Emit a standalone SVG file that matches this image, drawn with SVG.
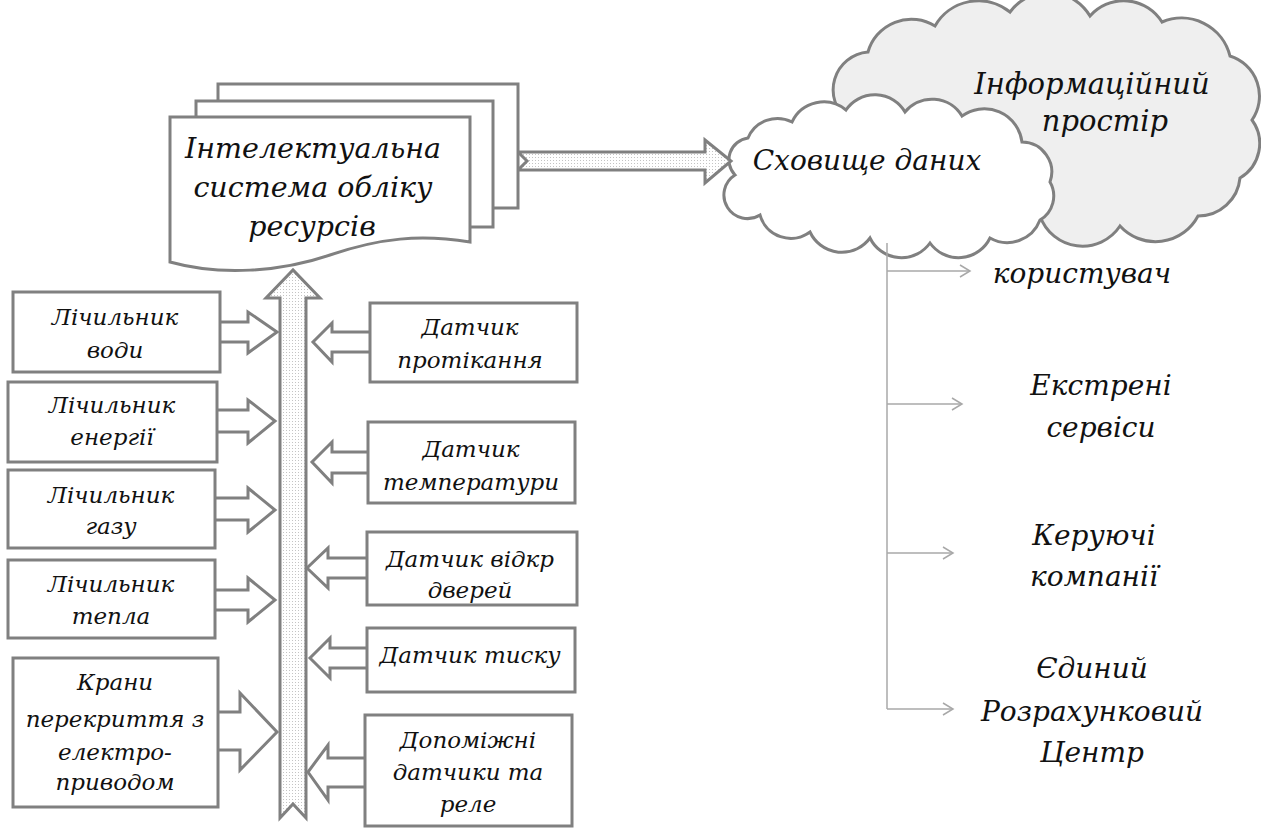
<svg xmlns="http://www.w3.org/2000/svg" width="1261" height="829" viewBox="0 0 1261 829">
<defs>
<pattern id="dots" width="3" height="3" patternUnits="userSpaceOnUse">
<rect width="3" height="3" fill="#ffffff"/>
<rect x="1" y="1" width="1" height="1" fill="#c4c4c4"/>
</pattern>
<marker id="open" markerWidth="14" markerHeight="14" refX="12" refY="7" orient="auto" markerUnits="userSpaceOnUse">
<path d="M2,1 L12,7 L2,13" fill="none" stroke="#a8a8a8" stroke-width="1.5"/>
</marker>
</defs>
<style>
.sh{fill:#fff;stroke:#808080;stroke-width:3;stroke-linejoin:miter}
.big{fill:url(#dots);stroke:#808080;stroke-width:3}
.t{font-family:"DejaVu Serif","Liberation Serif",serif;font-style:italic;fill:#111;text-anchor:middle}
.s{font-size:23px}
.m{font-size:28.5px}
.l{font-size:28px}
.c{font-size:29px}
.ln{fill:none;stroke:#a8a8a8;stroke-width:1.5}
</style>
<rect width="1261" height="829" fill="#fff"/>

<g id="cloud-info">
<path class="sh" style="fill:#efefef" d="M848,120 A38,38 0 0 1 868,52 A45,45 0 0 1 935,26 A50,50 0 0 1 1010,12 A48,48 0 0 1 1090,16 A45,45 0 0 1 1162,22 A50,50 0 0 1 1230,56 A42,42 0 0 1 1252,120 A40,40 0 0 1 1240,178 A42,42 0 0 1 1198,216 A48,48 0 0 1 1120,226 A45,45 0 0 1 1040,216 A45,45 0 0 1 960,200 A48,48 0 0 1 880,182 A35,35 0 0 1 848,120 Z"/>
<text class="t c" x="1092" y="94">Інформаційний</text>
<text class="t c" x="1105" y="131">простір</text>
</g>

<g id="cloud-store">
<path class="sh" d="M735,175 A22,22 0 0 1 748,138 A32,32 0 0 1 792,122 A35,35 0 0 1 846,110 A35,35 0 0 1 905,112 A35,35 0 0 1 962,116 A38,38 0 0 1 1022,142 A30,30 0 0 1 1050,182 A28,28 0 0 1 1040,220 A35,35 0 0 1 990,238 A35,35 0 0 1 930,243 A35,35 0 0 1 870,238 A35,35 0 0 1 810,232 A32,32 0 0 1 760,215 A22,22 0 0 1 735,175 Z"/>
<text class="t l" x="867" y="170">Сховище даних</text>
</g>

<g id="connectors">
<path class="big" d="M518,152 L705,152 L705,140 L731,161 L705,183 L705,170 L518,170 L527,161 Z"/>
<path class="big" d="M280,298 L266,298 L293,270 L320,298 L306,298 L306,818 L293,804 L280,818 Z"/>
<path class="sh" d="M210,322 L248,322 L248,312 L277,332 L248,353 L248,342 L210,342 Z"/>
<path class="sh" d="M210,410 L248,410 L248,400 L275,421 L248,443 L248,432 L210,432 Z"/>
<path class="sh" d="M210,498 L248,498 L248,488 L275,510 L248,532 L248,520 L210,520 Z"/>
<path class="sh" d="M210,590 L248,590 L248,578 L275,600 L248,622 L248,610 L210,610 Z"/>
<path class="sh" d="M210,712 L240,712 L240,693 L277,732 L240,770 L240,750 L210,750 Z"/>
<path class="sh" d="M378,332 L332,332 L332,323 L313,342 L332,362 L332,352 L378,352 Z"/>
<path class="sh" d="M376,452 L332,452 L332,442 L312,462 L332,483 L332,473 L376,473 Z"/>
<path class="sh" d="M375,558 L328,558 L328,548 L307,568 L328,588 L328,578 L375,578 Z"/>
<path class="sh" d="M375,648 L330,648 L330,638 L310,658 L330,678 L330,668 L375,668 Z"/>
<path class="sh" d="M373,758 L328,758 L328,745 L308,772 L328,800 L328,787 L373,787 Z"/>
<path class="ln" d="M887,243 L887,709"/>
<path class="ln" d="M887,271 L970,271" marker-end="url(#open)"/>
<path class="ln" d="M887,404 L962,404" marker-end="url(#open)"/>
<path class="ln" d="M887,553 L953,553" marker-end="url(#open)"/>
<path class="ln" d="M887,709 L953,709" marker-end="url(#open)"/>
</g>

<g id="doc">
<rect class="sh" x="218" y="84" width="300" height="124"/>
<rect class="sh" x="196" y="101" width="297" height="126"/>
<path class="sh" d="M170,117 H470 V242 C420,234 380,238 330,255 C280,272 220,276 170,262 Z"/>
<text class="t m" x="313" y="158">Інтелектуальна</text>
<text class="t m" x="313" y="197">система обліку</text>
<text class="t m" x="312" y="236">ресурсів</text>
</g>

<g id="box-water"><rect class="sh" x="13" y="292" width="207" height="80"/>
<text class="t s" x="115" y="325">Лічильник</text><text class="t s" x="115" y="358">води</text></g>
<g id="box-energy"><rect class="sh" x="8" y="382" width="209" height="80"/>
<text class="t s" x="112" y="413">Лічильник</text><text class="t s" x="112" y="445">енергії</text></g>
<g id="box-gas"><rect class="sh" x="8" y="470" width="207" height="78"/>
<text class="t s" x="111" y="503">Лічильник</text><text class="t s" x="111" y="534">газу</text></g>
<g id="box-heat"><rect class="sh" x="8" y="560" width="207" height="78"/>
<text class="t s" x="111" y="592">Лічильник</text><text class="t s" x="111" y="624">тепла</text></g>
<g id="box-valves"><rect class="sh" x="13" y="658" width="205" height="149"/>
<text class="t s" x="115" y="690">Крани</text><text class="t s" x="115" y="727">перекриття з</text><text class="t s" x="115" y="760">електро-</text><text class="t s" x="115" y="790">приводом</text></g>

<g id="box-leak"><rect class="sh" x="370" y="303" width="207" height="79"/>
<text class="t s" x="470" y="335">Датчик</text><text class="t s" x="470" y="368">протікання</text></g>
<g id="box-temp"><rect class="sh" x="368" y="422" width="207" height="81"/>
<text class="t s" x="471" y="457">Датчик</text><text class="t s" x="471" y="490">температури</text></g>
<g id="box-door"><rect class="sh" x="367" y="532" width="210" height="73"/>
<text class="t s" x="470" y="567">Датчик відкр</text><text class="t s" x="470" y="598">дверей</text></g>
<g id="box-pressure"><rect class="sh" x="367" y="628" width="208" height="64"/>
<text class="t s" x="470" y="663">Датчик тиску</text></g>
<g id="box-aux"><rect class="sh" x="365" y="715" width="207" height="111"/>
<text class="t s" x="468" y="748">Допоміжні</text><text class="t s" x="468" y="780">датчики та</text><text class="t s" x="468" y="812">реле</text></g>

<g id="t-user"><text class="t l" x="1082" y="283">користувач</text></g>
<g id="t-emerg"><text class="t l" x="1101" y="395">Екстрені</text><text class="t l" x="1101" y="437">сервіси</text></g>
<g id="t-manage"><text class="t l" x="1094" y="545">Керуючі</text><text class="t l" x="1094" y="586">компанії</text></g>
<g id="t-erc"><text class="t l" x="1092" y="678">Єдиний</text><text class="t l" x="1092" y="721">Розрахунковий</text><text class="t l" x="1092" y="762">Центр</text></g>
</svg>
